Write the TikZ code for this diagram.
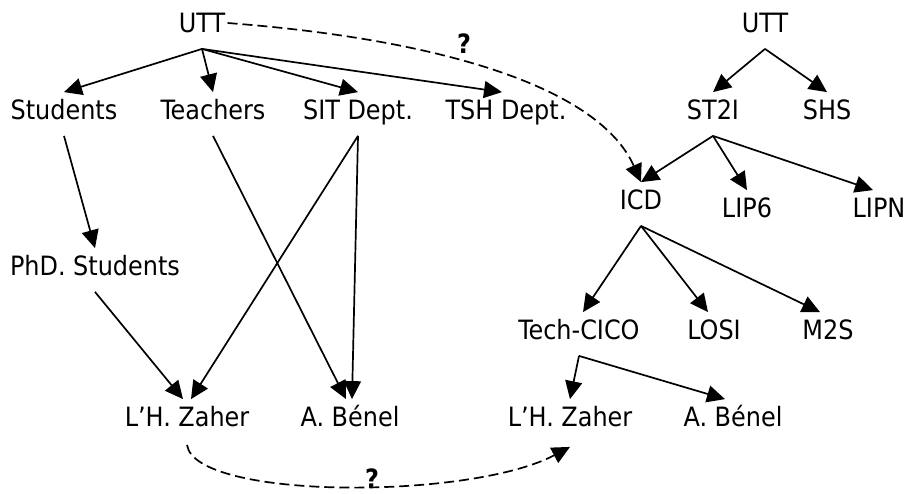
\documentclass[tikz,border=0pt]{standalone}
\usepackage{fontspec}
\setmainfont{DejaVu Sans Condensed}
\usetikzlibrary{arrows.meta, positioning}

\begin{document}
\begin{tikzpicture}[x=0.5pt, y={(0pt,-0.5pt)}, >={Triangle[length=9pt, width=8.5pt]},
  lbl/.style={inner xsep=1pt, inner ysep=4pt, text height=9.5pt, text depth=0pt, font=\fontsize{13.3}{15}\selectfont},
  link/.style={->, line width=0.85pt},
  guess/.style={->, line width=0.85pt, dash pattern=on 5pt off 2.5pt},
  qmark/.style={inner sep=0pt, font=\fontsize{13.3}{15}\selectfont\bfseries}]
  \useasboundingbox (0,0) rectangle (909,493);

  % left: UTT actors
  \node[lbl] (uttL) at (202,23) {UTT};
  \node[lbl] (students) at (64,110) {Students};
  \node[lbl] (teachers) at (213,110) {Teachers};
  \node[lbl] (sit) at (358,110) {SIT Dept.};
  \node[lbl] (tsh) at (506,110) {TSH Dept.};
  \node[lbl] (phd) at (95,266) {PhD. Students};
  \node[lbl] (zaherL) at (187,417) {L’H. Zaher};
  \node[lbl] (benelL) at (350,417) {A. Bénel};

  % right: UTT structure
  \node[lbl] (uttR) at (765,23) {UTT};
  \node[lbl] (st2i) at (713,110) {ST2I};
  \node[lbl] (shs) at (827,110) {SHS};
  \node[lbl] (icd) at (641,200) {ICD};
  \node[lbl] (lip6) at (747,208) {LIP6};
  \node[lbl] (lipn) at (879,208) {LIPN};
  \node[lbl] (cico) at (579,330) {Tech-CICO};
  \node[lbl] (losi) at (714,330) {LOSI};
  \node[lbl] (m2s) at (828,330) {M2S};
  \node[lbl] (zaherR) at (570,417) {L’H. Zaher};
  \node[lbl] (benelR) at (733,417) {A. Bénel};

  \node[qmark] (q1) at (464,44) {?};
  \node[qmark] (q2) at (372,479) {?};

  \draw[link] ([yshift=-4pt]uttL.south) -- (students.north);
  \draw[link] ([yshift=-4pt]uttL.south) -- (teachers.north);
  \draw[link] ([yshift=-4pt]uttL.south) -- (sit.north);
  \draw[link] ([yshift=-4pt]uttL.south) -- ([xshift=-2pt]tsh.north);
  \draw[link] ([yshift=-4pt]students.south) -- (phd.north);
  \draw[link] ([yshift=-4pt]teachers.south) -- ([xshift=-2pt]benelL.north);
  \draw[link] ([yshift=-4pt]sit.south) -- ([xshift=2pt]zaherL.north);
  \draw[link] ([yshift=-4pt]sit.south) -- ([xshift=1pt]benelL.north);
  \draw[link] ([yshift=-4pt]phd.south) -- ([xshift=-2pt]zaherL.north);

  \draw[link] ([yshift=-4pt]uttR.south) -- (st2i.north);
  \draw[link] ([yshift=-4pt]uttR.south) -- (shs.north);
  \draw[link] ([yshift=-4pt]st2i.south) -- (icd.north);
  \draw[link] ([yshift=-4pt]st2i.south) -- (lip6.north);
  \draw[link] ([yshift=-4pt]st2i.south) -- ([xshift=-3pt]lipn.north);
  \draw[link] ([yshift=-4pt]icd.south) -- ([xshift=2pt]cico.north);
  \draw[link] ([yshift=-4pt]icd.south) -- ([xshift=-3pt]losi.north);
  \draw[link] ([yshift=-4pt]icd.south) -- ([xshift=-4pt]m2s.north);
  \draw[link] ([yshift=-4pt]cico.south) -- (zaherR.north);
  \draw[link] ([yshift=-4pt]cico.south) -- ([xshift=-4pt]benelR.north);

  \draw[guess] (uttL.east) .. controls (450,40) and (600,90) .. (icd.north);
  \draw[guess] ([yshift=-5pt]zaherL.south) .. controls (195,500) and (470,500) .. ([yshift=-6pt]zaherR.south);
\end{tikzpicture}
\end{document}
